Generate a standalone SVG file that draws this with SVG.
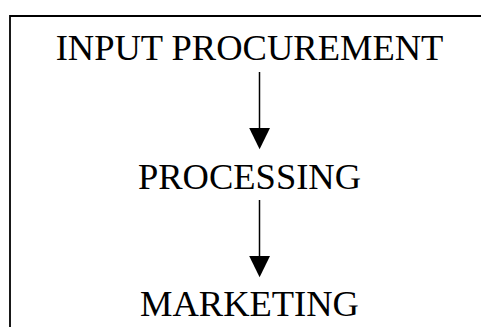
<svg xmlns="http://www.w3.org/2000/svg" width="481" height="327" viewBox="0 0 481 327">
  <style>
    .label { font-family: "Liberation Serif", "Times New Roman", serif; font-size: 36.5px; fill: #000; text-anchor: middle; }
    .frame { fill: none; stroke: #000; stroke-width: 1.8; }
    .link { stroke: #000; stroke-width: 1.5; fill: none; }
    .head { fill: #000; }
  </style>
  <rect width="481" height="327" fill="#fff"/>
  <!-- outer frame running off the right and bottom edges -->
  <path class="frame" d="M10,340 L10,16 L490,16"/>

  <g id="input-procurement">
    <text class="label" x="249.5" y="59.5">INPUT PROCUREMENT</text>
  </g>
  <g id="processing">
    <text class="label" x="249.5" y="188.5">PROCESSING</text>
  </g>
  <g id="marketing">
    <text class="label" x="249.5" y="315.7">MARKETING</text>
  </g>

  <g id="connectors">
    <path class="link" d="M259.5,72 L259.5,128"/>
    <path class="head" d="M249.2,128 L270,128 L259.6,149.3 Z"/>
    <path class="link" d="M259.5,200 L259.5,256"/>
    <path class="head" d="M249.2,256 L270,256 L259.6,277.3 Z"/>
  </g>
</svg>
